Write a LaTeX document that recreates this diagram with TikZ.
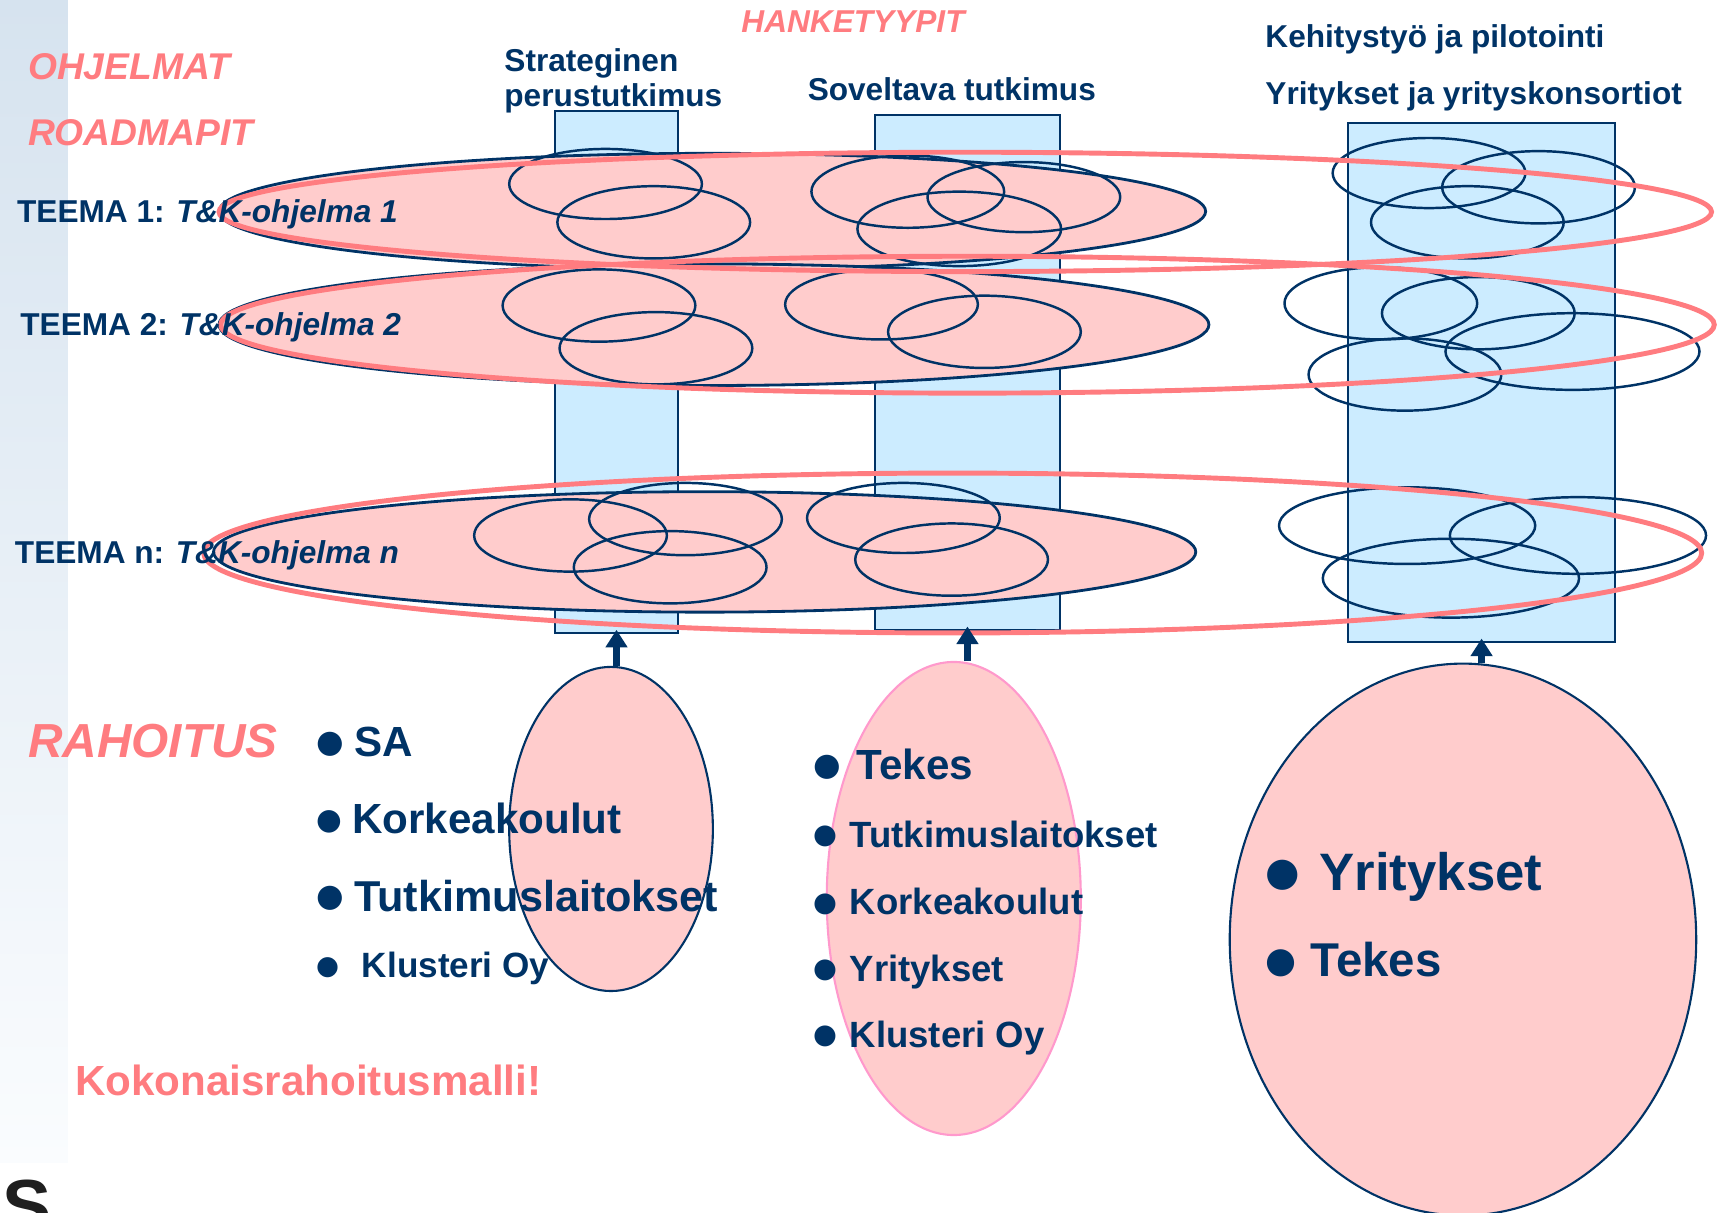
\documentclass[tikz,border=0pt]{standalone}
\usepackage{fontspec}
\setmainfont{Liberation Sans}
\newfontfamily\symfont{DejaVu Sans}
\usetikzlibrary{shapes.geometric,arrows.meta,positioning}

\definecolor{navy}{HTML}{003366}
\definecolor{rosa}{HTML}{FF7C80}
\definecolor{rosafill}{HTML}{FFCCCC}
\definecolor{lightpink}{HTML}{FF99CC}
\definecolor{skyfill}{HTML}{CCECFF}
\definecolor{bandtop}{HTML}{D6E3EF}
\definecolor{bandbot}{HTML}{FAFCFE}

\newcommand\pu{0.01095cm}
\newcommand\bul{\raisebox{0.1em}{\scalebox{0.75}{\symfont ●}}}
\newcommand\fs[1]{\fontsize{#1}{#1}\selectfont\bfseries}

\tikzset{
  column/.style={rectangle, draw=navy, fill=skyfill, line width=0.6pt, inner sep=0pt},
  theme/.style={ellipse, draw=navy, fill=rosafill, line width=0.8pt, inner sep=0pt},
  ring/.style={ellipse, draw=rosa, line width=1.4pt, inner sep=0pt},
  proj/.style={draw=navy, line width=0.7pt},
  fund/.style={ellipse, fill=rosafill, draw=navy, line width=0.6pt, inner sep=0pt},
  head/.style={inner sep=0pt, anchor=base west, text=navy, font=\fs{9}},
  item/.style={inner sep=0pt, anchor=base west, text=navy},
  pinktxt/.style={inner sep=0pt, anchor=base west, text=rosa},
  flow/.style={draw=navy, line width=2pt, shorten >=-1.2pt, -{Triangle[length=5pt,width=6pt]}}
}

\begin{document}
\begin{tikzpicture}[x=\pu, y=-\pu]
  \useasboundingbox (0,0) rectangle (1568,1107);
  % side band
  \shade[top color=bandtop, bottom color=bandbot] (0,0) rectangle (62,1062);
  \node[inner sep=0pt, anchor=north west, font=\fs{21}, text=black!88] (logo) at (1.5,1077) {S};

  % columns (hanketyypit)
  \node[column, minimum width=112*\pu, minimum height=477*\pu] (colA) at (563,339.5) {};
  \node[column, minimum width=169*\pu, minimum height=470*\pu] (colB) at (883.5,340) {};
  \node[column, minimum width=244*\pu, minimum height=474*\pu] (colC) at (1353,349) {};

  % themes
  \node[theme, minimum width=901*\pu, minimum height=106*\pu] (teema1) at (650.5,193) {};
  \node[theme, minimum width=904*\pu, minimum height=111*\pu] (teema2) at (652,296.5) {};
  \node[theme, minimum width=897*\pu, minimum height=110*\pu] (teeman) at (643.5,504) {};

  % projects
  \foreach \cx/\cy/\rx/\ry in {553/168/88/32, 597/203/88/33, 829/175/88/33, 935/180/88/32,
      876/209/93/34, 1305/158/88/32, 1405/171/88/33, 1340/203/88/33,
      547/279/88/33, 599/318/88/33, 805/278/88/32, 899/303/88/33,
      1261/277/88/33, 1350/286/88/33, 1283/342/88/33, 1436/321/116/35,
      521/489/88/33, 626/474/88/33, 612/518/88/33, 825/473/88/32, 869/511/88/33,
      1285/480/117/35, 1441/489/117/35, 1325/528/117/36}
    \draw[proj] (\cx,\cy) ellipse [x radius=\rx, y radius=\ry];

  % programme rings
  \node[ring, minimum width=1363*\pu, minimum height=109*\pu] (ohj1) at (881.5,193.5) {};
  \node[ring, minimum width=1364*\pu, minimum height=125*\pu] (ohj2) at (883.5,296.5) {};
  \node[ring, minimum width=1368*\pu, minimum height=146*\pu] (ohjn) at (870,505) {};

  % titles
  \node[pinktxt, font=\fs{9}\itshape, anchor=base] (hanke) at (779,29.5) {HANKETYYPIT};
  \node[pinktxt, font=\fs{10.6}\itshape] (ohjelmat) at (25,72.5) {OHJELMAT};
  \node[pinktxt, font=\fs{10.6}\itshape] (roadmap) at (25,133) {ROADMAPIT};
  \node[head] (strat) at (460,65) {Strateginen};
  \node[head] (perus) at (460,97.5) {perustutkimus};
  \node[head] (sovel) at (737,92) {Soveltava tutkimus};
  \node[head] (kehit) at (1155,43) {Kehitystyö ja pilotointi};
  \node[head] (yrit) at (1155,95) {Yritykset ja yrityskonsortiot};
  \node[head] (lab1) at (15,203) {TEEMA 1: \textit{T\&K-ohjelma 1}};
  \node[head] (lab2) at (18,306) {TEEMA 2: \textit{T\&K-ohjelma 2}};
  \node[head] (labn) at (13,515) {TEEMA n: \textit{T\&K-ohjelma n}};

  % funding
  \node[fund, minimum width=186*\pu, minimum height=296*\pu] (fundA) at (558,757) {};
  \node[fund, draw=lightpink, minimum width=232*\pu, minimum height=432*\pu] (fundB) at (871,820.5) {};
  \node[fund, minimum width=426*\pu, minimum height=504*\pu] (fundC) at (1336,858) {};

  \draw[flow] (colA.south |- fundA.north) -- (colA.south);
  \draw[flow] (colB.south |- fundB.north) -- (colB.south);
  \draw[flow] (colC.south |- fundC.north) -- (colC.south);

  \node[pinktxt, font=\fs{13.6}\itshape] (rahoitus) at (25,692) {RAHOITUS};
  \node[pinktxt, font=\fs{12}] (koko) at (68,1000) {Kokonaisrahoitusmalli!};

  % lists
  \node[item, font=\fs{12}] (sa) at (288,691) {\bul\hspace{3pt}SA};
  \node[item, font=\fs{11.2}] (korkA) at (288,761) {\bul\hspace{3pt}{\fs{12}Korkeakoulut}};
  \node[item, font=\fs{12}] (tutkA) at (288,832) {\bul\hspace{3pt}{\fs{12.3}Tutkimuslaitokset}};
  \node[item, font=\fs{10}] (klusA) at (288,893) {\bul\hspace{6.5pt}Klusteri Oy};

  \node[item, font=\fs{12}] (tekesB) at (742,712) {\bul\hspace{4.5pt}Tekes};
  \node[item, font=\fs{10.4}] (tutkB) at (742,774) {\bul\hspace{3.6pt}Tutkimuslaitokset};
  \node[item, font=\fs{10.4}] (korkB) at (742,835.5) {\bul\hspace{3.6pt}Korkeakoulut};
  \node[item, font=\fs{10.4}] (yritB) at (742,896) {\bul\hspace{3.6pt}Yritykset};
  \node[item, font=\fs{10.4}] (klusB) at (742,956.5) {\bul\hspace{3.6pt}Klusteri Oy};

  \node[item, font=\fs{15}] (yritC) at (1155,813) {\bul\hspace{5.6pt}Yritykset};
  \node[item, font=\fs{13.5}] (tekesC) at (1155,892) {\bul\hspace{4pt}Tekes};
\end{tikzpicture}
\end{document}
